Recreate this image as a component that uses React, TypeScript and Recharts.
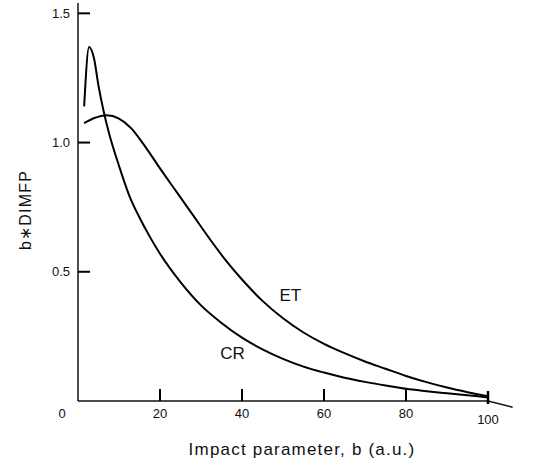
import React from 'react';
import { LineChart, Line, XAxis, YAxis, ReferenceLine, ReferenceDot } from 'recharts';

const etB = [1.5, 4, 7, 10, 13, 16, 20, 24, 28, 32, 36, 40, 45, 50, 55, 60, 65, 70, 75, 80, 85, 90, 95, 100];
const etV = [1.075, 1.095, 1.106, 1.093, 1.055, 0.993, 0.9, 0.81, 0.72, 0.63, 0.545, 0.47, 0.3875, 0.32, 0.265, 0.221, 0.185, 0.153, 0.125, 0.097, 0.073, 0.052, 0.034, 0.018];

const crB = [1.5, 2.7, 3.9, 5, 6.2, 7.5, 10, 12.5, 15, 17.5, 20, 25, 30, 35, 40, 45, 50, 55, 60, 65, 70, 75, 80, 85, 90, 95, 100];
const crV = [1.14, 1.37, 1.326, 1.22, 1.125, 1.04, 0.91, 0.795, 0.71, 0.636, 0.57, 0.46, 0.37, 0.302, 0.245, 0.2, 0.163, 0.133, 0.11, 0.09, 0.074, 0.06, 0.047, 0.038, 0.03, 0.022, 0.014];

const xTicks = [0, 20, 40, 60, 80, 100];
const yTicks = [0.5, 1.0, 1.5];
const yTickLabels = ['0.5', '1.0', '1.5'];

const etData = etB.map((b, i) => ({ b, v: etV[i] }));
const crData = crB.map((b, i) => ({ b, v: crV[i] }));

const FONT = "'Liberation Sans', Arial, sans-serif";

const XTick = (props: any) => {
  const { x, y, payload } = props;
  const val = payload.value;
  if (val === 0) {
    return (
      <text x={x - 16} y={y + 12} textAnchor="middle" dominantBaseline="central" fontSize={13} fontFamily={FONT} fill="#111">0</text>
    );
  }
  const is100 = val === 100;
  return (
    <g>
      <path d={is100 ? `M${x},${y - 10}L${x},${y + 3}` : `M${x},${y - 12}L${x},${y}`} stroke="#000" strokeWidth={is100 ? 2.5 : 2} fill="none" />
      <text x={x} y={is100 ? y + 18 : y + 12} textAnchor="middle" dominantBaseline="central" fontSize={13} fontFamily={FONT} fill="#111">{String(val)}</text>
    </g>
  );
};

const YTick = (props: any) => {
  const { x, y, payload } = props;
  const idx = yTicks.indexOf(payload.value);
  return (
    <g>
      <path d={`M${x},${y}L${x + 12},${y}`} stroke="#000" strokeWidth={2} fill="none" />
      <text x={x - 8} y={y} textAnchor="end" dominantBaseline="central" fontSize={13} fontFamily={FONT} fill="#111">{idx >= 0 ? yTickLabels[idx] : ''}</text>
    </g>
  );
};

const XTitle = () => (
  <text x={302} y={449} textAnchor="middle" dominantBaseline="central" fontSize={17} fontFamily={FONT} fill="#111" letterSpacing={1.2}>
    Impact parameter, b (a.u.)
  </text>
);

const YTitle = () => (
  <text x={25} y={210} transform="rotate(-90 25 210)" textAnchor="middle" dominantBaseline="central" fontSize={16} fontFamily={FONT} fill="#111" letterSpacing={1.2}>
    b∗DIMFP
  </text>
);

export default function App() {
  return (
    <div style={{ position: 'absolute', left: 0, top: 0, background: '#fff' }}>
      <LineChart width={538} height={465} margin={{ top: 3, right: 50, bottom: 0, left: 0 }}>
        <XAxis
          type="number"
          dataKey="b"
          domain={[0, 100]}
          ticks={xTicks}
          tick={<XTick />}
          tickSize={0}
          tickMargin={0}
          tickLine={false}
          height={64}
          axisLine={{ stroke: '#111', strokeWidth: 1.5 }}
          allowDuplicatedCategory={false}
          label={<XTitle />}
        />
        <YAxis
          type="number"
          domain={[0, 1.54]}
          ticks={yTicks}
          tick={<YTick />}
          tickSize={0}
          tickMargin={0}
          tickLine={false}
          width={78}
          axisLine={{ stroke: '#111', strokeWidth: 1.5 }}
          label={<YTitle />}
        />
        <Line data={etData} dataKey="v" type="monotone" stroke="#000" strokeWidth={2} dot={false} isAnimationActive={false} />
        <Line data={crData} dataKey="v" type="monotone" stroke="#000" strokeWidth={2} dot={false} isAnimationActive={false} />
        <ReferenceLine segment={[{ x: 100, y: 0 }, { x: 106, y: -0.024 }]} stroke="#111" strokeWidth={1.5} ifOverflow="visible" />
        <ReferenceDot x={51.8} y={0.41} r={0} ifOverflow="visible" label={{ value: 'ET', position: 'center', fontSize: 17, fontFamily: FONT, fill: '#111' }} />
        <ReferenceDot x={37.7} y={0.186} r={0} ifOverflow="visible" label={{ value: 'CR', position: 'center', fontSize: 17, fontFamily: FONT, fill: '#111' }} />
      </LineChart>
    </div>
  );
}
